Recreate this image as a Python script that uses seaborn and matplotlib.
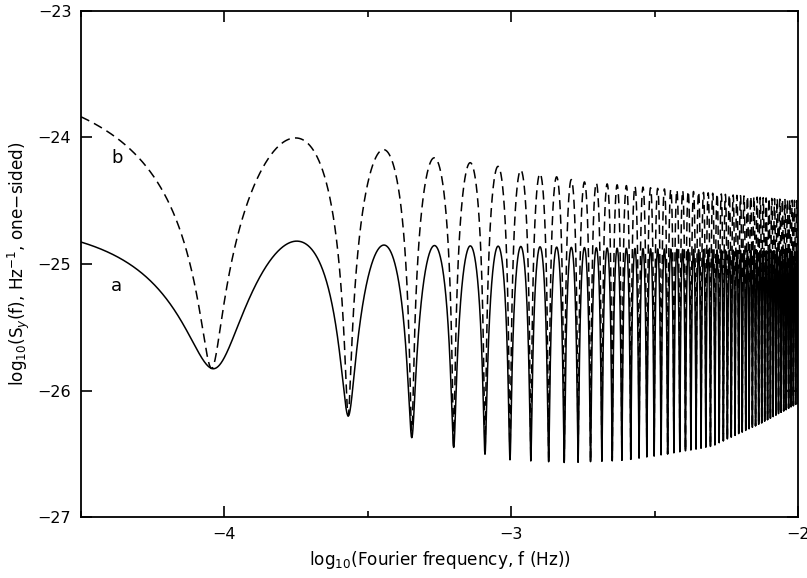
import numpy as np
import pandas as pd
import matplotlib
matplotlib.use("Agg")
import matplotlib.pyplot as plt
import seaborn as sns
from matplotlib.ticker import MultipleLocator

# notches sit at odd multiples of f0, peaks at even multiples
f0 = 9.0e-5

# peak envelopes (log10 f, log10 Sy)
peak_a_x = [-4.5, -3.74, -3.45, -3.0, -2.5, -2.0]
peak_a_y = [-24.72, -24.82, -24.85, -24.86, -24.88, -24.9]
peak_b_x = [-4.5, -3.76, -3.43, -3.27, -3.14, -3.04, -2.96, -2.75, -2.4, -2.0]
peak_b_y = [-23.70, -24.0, -24.1, -24.16, -24.2, -24.23, -24.26, -24.35, -24.42, -24.5]
# notch envelope (same for both curves)
notch_x = [-4.5, -4.04, -3.57, -3.35, -3.2, -3.1, -3.0, -2.8, -2.6, -2.45, -2.3, -2.13, -2.0]
notch_y = [-25.4, -25.83, -26.2, -26.37, -26.45, -26.5, -26.55, -26.57, -26.55, -26.5, -26.44, -26.26, -26.1]

sns.set_style("ticks")
plt.rcParams['font.family'] = ['DejaVu Sans']
plt.rcParams['mathtext.fontset'] = 'dejavusans'
plt.rcParams['text.color'] = 'black'
plt.rcParams['axes.labelcolor'] = 'black'

logf = np.linspace(-4.5, -2.0, 40000)
f = 10 ** logf
w = np.cos(np.pi * f / (2 * f0)) ** 2
T = 10 ** np.interp(logf, notch_x, notch_y)
Pa = 10 ** np.interp(logf, peak_a_x, peak_a_y)
Pb = 10 ** np.interp(logf, peak_b_x, peak_b_y)
df = pd.DataFrame({"logf": logf,
                   "a": np.log10(T + (Pa - T) * w),
                   "b": np.log10(T + (Pb - T) * w)})

fig = plt.figure(figsize=(8.07, 5.78), dpi=100)
ax = fig.add_axes([0.1004, 0.1055, 0.8885, 0.8755])

sns.lineplot(data=df, x="logf", y="b", ax=ax, color="black", lw=1.1,
             linestyle=(0, (6, 3.5)), estimator=None, sort=False)
sns.lineplot(data=df, x="logf", y="a", ax=ax, color="black", lw=1.1,
             estimator=None, sort=False)

ax.text(-4.375, -24.16, "b", fontsize=13, ha="center", va="center", color="black")
ax.text(-4.375, -25.17, "a", fontsize=13, ha="center", va="center", color="black")

ax.set_xlim(-4.5, -2.0)
ax.set_ylim(-27, -23)
ax.xaxis.set_major_locator(MultipleLocator(1))
ax.xaxis.set_minor_locator(MultipleLocator(0.5))
ax.yaxis.set_major_locator(MultipleLocator(1))
ax.tick_params(which="both", direction="in", top=True, right=True, width=1.2,
               labelsize=11.5, colors="black")
ax.tick_params(which="major", length=8, pad=7)
ax.tick_params(which="minor", length=4)
for s in ax.spines.values():
    s.set_linewidth(1.3)
    s.set_color("black")

ax.set_xlabel("log$_{10}$(Fourier frequency, f (Hz))", fontsize=12.2, color="black")
ax.set_ylabel("log$_{10}$(S$_{y}$(f), Hz$^{-1}$, one\u2212sided)", fontsize=12.2, color="black")
ax.xaxis.set_label_coords(0.5, -0.064)
ax.yaxis.set_label_coords(-0.068, 0.5)

plt.savefig("out.png", dpi=100)
